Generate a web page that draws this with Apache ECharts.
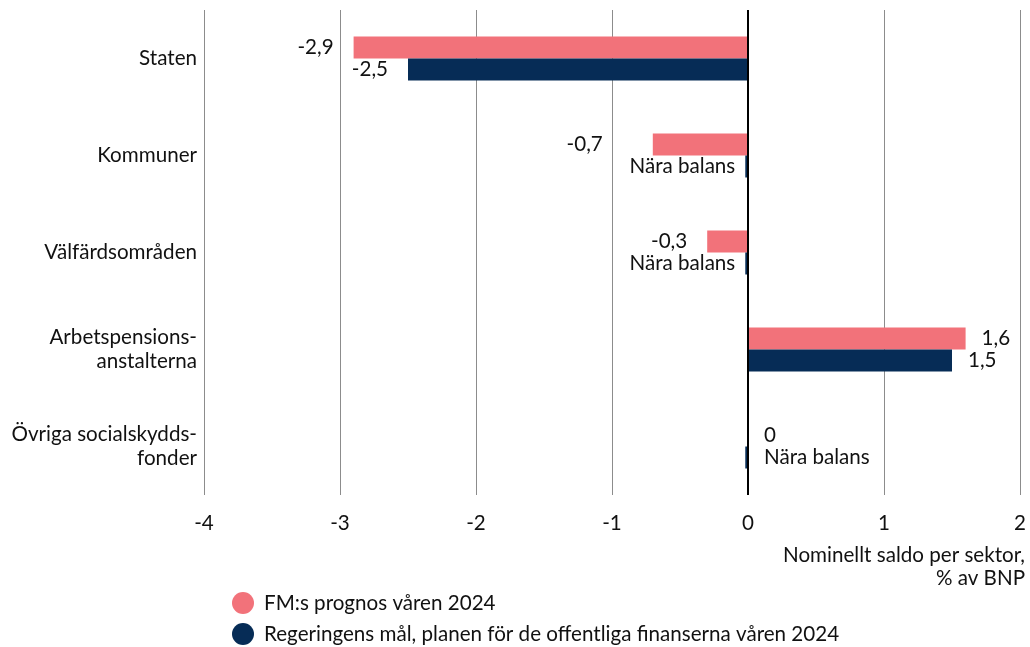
<!DOCTYPE html>
<html><head><meta charset="utf-8">
<script src="https://cdn.jsdelivr.net/npm/echarts@6/dist/echarts.min.js"></script>
<style>html,body{margin:0;padding:0;background:#fff}#c{width:1030px;height:647px}</style>
</head><body><div id="c"></div>
<script>
const categories = ['Staten', 'Kommuner', 'Välfärdsområden', 'Arbetspensions-\nanstalterna', 'Övriga socialskydds-\nfonder'];
const seriesNames = ['FM:s prognos våren 2024', 'Regeringens mål, planen för de offentliga finanserna våren 2024'];
const fmValues = [-2.9, -0.7, -0.3, 1.6, 0];
const fmLabels = ['-2,9', '-0,7', '-0,3', '1,6', '0'];
const govValues = [-2.5, -0.02, -0.02, 1.5, -0.02];
const govLabels = ['-2,5', 'Nära balans', 'Nära balans', '1,5', 'Nära balans'];
const xTicks = [-4, -3, -2, -1, 0, 1, 2];
const axisTitleLines = ['Nominellt saldo per sektor,', '% av BNP'];

const FONT = 'Lato, "Noto Sans", sans-serif';
const FS = 20.6;
const PINK = '#f2727a';
const NAVY = '#062c56';

function lbl(pos, dist) {
  return { show: true, position: pos, distance: dist };
}
const fmData = fmValues.map((v, i) => {
  const o = { value: v };
  if (i === 1) o.label = lbl('left', 50);
  if (v >= 0) o.label = lbl('right', 16);
  return o;
});
const govData = govValues.map((v, i) => {
  const o = { value: v };
  if (i === 4) o.label = lbl('right', 16);
  else if (v > 0) o.label = lbl('right', 16);
  else if (v > -0.1) o.label = lbl('left', 10);
  return o;
});

const chart = echarts.init(document.getElementById('c'), null, { renderer: 'canvas' });
chart.setOption({
  animation: false,
  textStyle: { fontFamily: FONT },
  grid: { left: 204, right: 10, top: 10, bottom: 152, containLabel: false },
  xAxis: {
    type: 'value', min: xTicks[0], max: xTicks[xTicks.length - 1], interval: 1,
    axisLine: { show: false }, axisTick: { show: false },
    splitLine: { show: true, lineStyle: { color: '#8c8c8c', width: 1 } },
    axisLabel: { color: '#111', fontSize: FS, margin: 18, fontFamily: FONT,
      formatter: v => String(v) }
  },
  yAxis: {
    type: 'category', data: categories, inverse: true,
    axisLine: { show: false }, axisTick: { show: false },
    axisLabel: { color: '#111', fontSize: FS, margin: 7, lineHeight: 24, align: 'right', fontFamily: FONT }
  },
  legend: {
    orient: 'vertical', left: 232, top: 592, itemGap: 9, padding: 0,
    icon: 'circle', itemWidth: 22, itemHeight: 22,
    textStyle: { fontSize: FS, color: '#111', fontFamily: FONT, padding: [0, 0, 0, 5] },
    data: seriesNames
  },
  graphic: axisTitleLines.map((t, i) => ({
    type: 'text', right: 5, top: 545 + i * 23,
    style: { text: t, fontSize: FS, fill: '#111', fontFamily: FONT }
  })),
  series: [
    {
      name: seriesNames[0], type: 'bar', data: fmData, barWidth: 22, barGap: '0%',
      itemStyle: { color: PINK },
      label: { show: true, position: 'left', distance: 20, color: '#111', fontSize: FS, fontFamily: FONT,
        formatter: p => fmLabels[p.dataIndex] },
      markLine: {
        silent: true, symbol: 'none', label: { show: false },
        lineStyle: { color: '#000', width: 2, type: 'solid' },
        data: [{ xAxis: 0 }]
      },
      z: 2
    },
    {
      name: seriesNames[1], type: 'bar', data: govData, barWidth: 22, barGap: '0%',
      itemStyle: { color: NAVY },
      label: { show: true, position: 'left', distance: 20, color: '#111', fontSize: FS, fontFamily: FONT,
        formatter: p => govLabels[p.dataIndex] },
      z: 2
    }
  ]
});
</script></body></html>
